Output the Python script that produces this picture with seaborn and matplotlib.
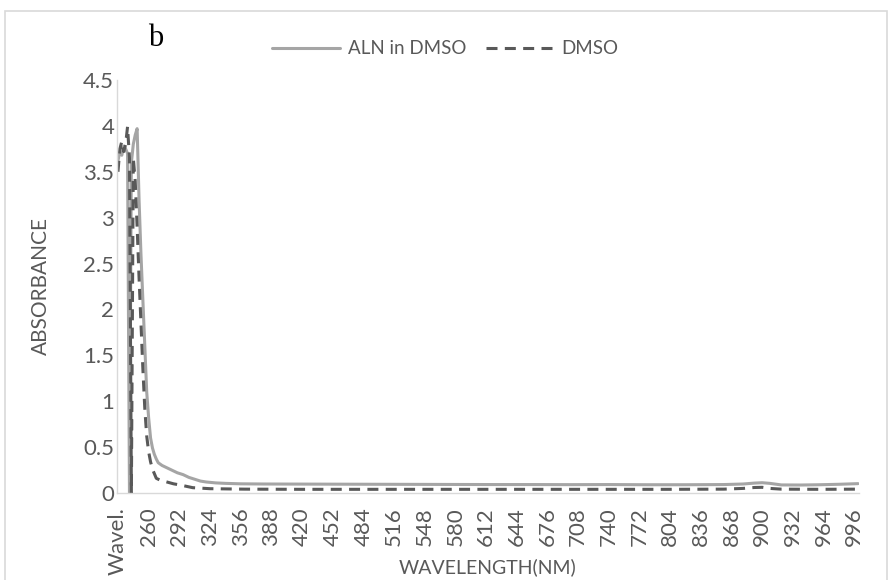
import matplotlib
matplotlib.use("Agg")
import matplotlib.pyplot as plt
from matplotlib.patches import Rectangle
import pandas as pd
import seaborn as sns

# Absorbance spectrum of ALN in DMSO (nm, absorbance)
aln_wavelength = [228, 230, 232, 234, 236, 238, 240, 242, 244, 246, 248, 250, 252,
                  254, 256, 258, 260, 262, 264, 266, 268, 270, 274, 278, 282, 286,
                  290, 296, 302, 308, 314, 320, 330, 340, 356, 380, 420, 460, 500,
                  540, 580, 620, 660, 700, 740, 780, 820, 860, 880, 892, 900, 908,
                  920, 940, 960, 980, 1000]
aln_absorbance = [3.62, 3.72, 3.68, 3.78, 3.75, 3.70, 0.0, 3.60, 3.80, 3.90, 3.97,
                  3.20, 2.60, 2.10, 1.60, 1.10, 0.82, 0.60, 0.49, 0.42, 0.37, 0.33,
                  0.30, 0.28, 0.26, 0.24, 0.22, 0.20, 0.17, 0.15, 0.13, 0.12, 0.11,
                  0.105, 0.10, 0.098, 0.097, 0.096, 0.095, 0.094, 0.093, 0.092, 0.092,
                  0.091, 0.092, 0.090, 0.090, 0.092, 0.098, 0.108, 0.112, 0.105,
                  0.088, 0.087, 0.090, 0.095, 0.102]

# Absorbance spectrum of the DMSO blank
dmso_wavelength = [228, 230, 232, 234, 236, 238, 240, 242, 244, 246, 248, 250, 252,
                   254, 256, 258, 260, 262, 264, 268, 272, 279, 286, 293, 306, 324,
                   360, 420, 500, 600, 700, 800, 860, 880, 892, 900, 908, 920, 960,
                   1000]
dmso_absorbance = [3.50, 3.75, 3.83, 3.72, 3.80, 3.99, 3.65, 0.0, 3.65, 3.40, 2.90,
                   2.35, 1.85, 1.35, 0.92, 0.62, 0.45, 0.34, 0.26, 0.16, 0.14, 0.12,
                   0.10, 0.087, 0.058, 0.047, 0.042, 0.04, 0.04, 0.04, 0.04, 0.04,
                   0.042, 0.05, 0.06, 0.062, 0.05, 0.042, 0.04, 0.042]

series_names = ["ALN in DMSO", "DMSO"]
series_colors = ["#A5A5A5", "#595959"]

x_tick_values = [228] + list(range(260, 1000, 32))
x_tick_labels = ["Wavel."] + [str(v) for v in range(260, 1000, 32)]
y_tick_values = [0, 0.5, 1, 1.5, 2, 2.5, 3, 3.5, 4, 4.5]
y_tick_labels = ["0", "0.5", "1", "1.5", "2", "2.5", "3", "3.5", "4", "4.5"]

df = pd.concat([
    pd.DataFrame({"wavelength": aln_wavelength, "absorbance": aln_absorbance,
                  "series": series_names[0]}),
    pd.DataFrame({"wavelength": dmso_wavelength, "absorbance": dmso_absorbance,
                  "series": series_names[1]}),
], ignore_index=True)

sns.set_style("white")
plt.rcParams["font.family"] = ["Lato", "DejaVu Sans"]
plt.rcParams["lines.solid_joinstyle"] = "round"
plt.rcParams["lines.dash_joinstyle"] = "round"
plt.rcParams["lines.dash_capstyle"] = "butt"

text_color = "#595959"
axis_color = "#D9D9D9"
tick_fs = 16
label_fs = 14
legend_fs = 13.5

W, H = 893, 580
fig = plt.figure(figsize=(W / 100, H / 100), dpi=100)
left, right, top, bottom = 117, 859, 80, 493
ax = fig.add_axes([left / W, 1 - bottom / H, (right - left) / W, (bottom - top) / H])

sns.lineplot(data=df, x="wavelength", y="absorbance", hue="series", style="series",
             palette=dict(zip(series_names, series_colors)),
             dashes={series_names[0]: "", series_names[1]: (3.6, 2.4)},
             linewidth=2.2, errorbar=None, legend=False, ax=ax)

ax.set_xlim(227, 1001)
ax.set_ylim(0, 4.5)
ax.set_xticks(x_tick_values)
ax.set_xticklabels(x_tick_labels, rotation=90, fontsize=tick_fs, color=text_color)
ax.set_yticks(y_tick_values)
ax.set_yticklabels(y_tick_labels, fontsize=tick_fs, color=text_color)
ax.tick_params(axis="both", length=0)
ax.tick_params(axis="x", pad=10)
ax.tick_params(axis="y", pad=2)

for side in ["top", "right"]:
    ax.spines[side].set_visible(False)
for side in ["left", "bottom"]:
    ax.spines[side].set_color(axis_color)
    ax.spines[side].set_linewidth(1.0)

ax.set_xlabel("WAVELENGTH(NM)", fontsize=label_fs, color=text_color)
ax.set_ylabel("ABSORBANCE", fontsize=label_fs + 1, color=text_color)
ax.xaxis.set_label_coords(0.5, -(558 - bottom) / (bottom - top), transform=ax.transAxes)
ax.yaxis.set_label_coords(-(left - 51) / (right - left), 0.5, transform=ax.transAxes)

fig.legend(handles=ax.lines[:2], labels=series_names, ncol=2, frameon=False,
           loc="center left", bbox_to_anchor=(272 / W, 1 - 49 / H),
           fontsize=legend_fs, labelcolor=text_color, handlelength=3.6,
           handletextpad=0.43, columnspacing=1.05, borderpad=0, borderaxespad=0)

fig.text(156 / W, 1 - 39 / H, "b", family=["Liberation Serif", "DejaVu Serif"],
         fontsize=22, color="black", ha="center", va="center")

fig.patches.append(Rectangle((5 / W, -0.05), (887 - 5) / W, (H - 11) / H + 0.05,
                             transform=fig.transFigure, fill=False,
                             edgecolor=axis_color, linewidth=1.2))

fig.savefig("out.png", dpi=100)
